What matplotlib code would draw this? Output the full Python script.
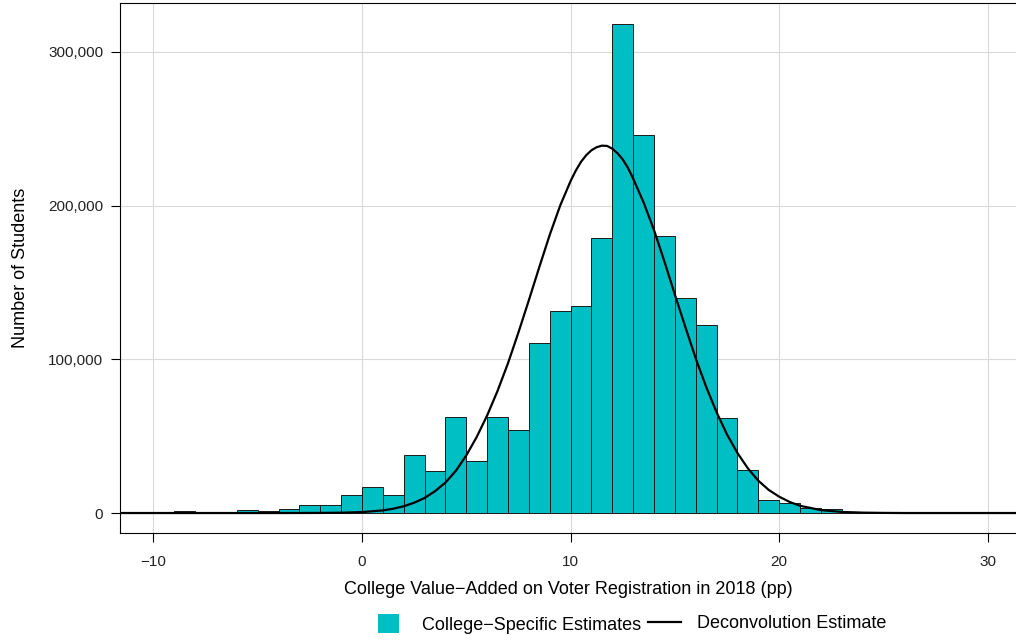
import matplotlib
matplotlib.use("Agg")
import matplotlib.pyplot as plt
from matplotlib.patches import Patch
from matplotlib.lines import Line2D
from matplotlib.ticker import FuncFormatter

plt.rcParams['font.family'] = ['Liberation Sans', 'DejaVu Sans']

# college-specific estimates, 1 pp bins (left edge of each bin)
bin_left = list(range(-9, 25))
bin_count = [1300, 200, 600, 2000, 1500, 2800, 5000, 5100, 12000, 17000,
             12000, 37500, 27600, 62400, 34000, 62700, 54000, 110400, 131500, 134700,
             179200, 318200, 245800, 180200, 140200, 122000, 61800, 28200, 8250, 6750,
             3500, 2400, 500, 200]

# deconvolution estimate (scaled to number of students)
curve_x = [-11.6, -4, -3, -2, -1, 0, 1, 1.5, 2, 2.5, 3, 3.5, 4, 4.5, 5, 5.5, 6, 6.5,
           7, 7.5, 8, 8.5, 9, 9.5, 10, 10.25, 10.5, 10.75, 11, 11.25, 11.5, 11.75,
           12, 12.25, 12.5, 12.75, 13, 13.5, 14, 14.5,
           15, 15.5, 16, 16.5, 17, 17.5, 18, 18.5, 19, 19.5, 20, 20.5, 21, 22, 23,
           24, 25, 26, 31.4]
curve_y = [0, 0, 20, 60, 200, 600, 1700, 2800, 4400, 6700, 9800, 14200, 19800, 27500,
           37500, 49500, 63500, 79500, 97500, 117500, 138500, 160000, 181000, 200000,
           216000, 222800, 228500, 232800, 236000, 238000, 239000, 238800,
           237000, 234000, 230000, 224500, 217500, 202000, 184000,
           163500, 142000, 121000, 100500, 82000, 65500, 51000, 39000, 29000, 21000,
           15000, 10600, 7200, 4700, 1900, 700, 250, 80, 0, 0]

x_ticks = [-10, 0, 10, 20, 30]
y_ticks = [0, 100000, 200000, 300000]

teal = '#00BFC4'

fig = plt.figure(figsize=(10.16, 6.4), dpi=100)
ax = fig.add_axes([120 / 1016, 107 / 640, 896 / 1016, 530 / 640])

ax.bar(bin_left, bin_count, width=1, align='edge', color=teal,
       edgecolor='#1a1a1a', linewidth=0.7, zorder=2)
ax.plot(curve_x, curve_y, color='black', linewidth=1.6, zorder=3)

ax.set_xlim(-11.6, 31.35)
ax.set_ylim(-13000, 331800)
ax.set_xticks(x_ticks)
ax.set_yticks(y_ticks)
ax.yaxis.set_major_formatter(FuncFormatter(lambda v, p: f"{int(v):,}"))

ax.grid(True, color='#d9d9d9', linewidth=0.8)
ax.set_axisbelow(True)

for side in ['left', 'bottom', 'top']:
    ax.spines[side].set_color('black')
    ax.spines[side].set_linewidth(0.8)
ax.spines['right'].set_visible(False)

ax.tick_params(direction='out', length=6.5, width=0.8, color='black',
               labelsize=11, labelcolor='#222222')
ax.tick_params(axis='x', pad=9)
ax.tick_params(axis='y', pad=5.5)

ax.set_xlabel('College Value\u2212Added on Voter Registration in 2018 (pp)',
              fontsize=13, color='black', labelpad=9)
ax.set_ylabel('Number of Students', fontsize=13, color='black', labelpad=13.5)

# legend below the panel, one entry per key
fs_px = 13 * 100 / 72
leg1 = fig.legend(handles=[Patch(facecolor=teal, edgecolor='none')],
                  labels=['College\u2212Specific Estimates'],
                  loc='center left', bbox_to_anchor=(378 / 1016, 1 - 624 / 640),
                  frameon=False, fontsize=13, borderpad=0, borderaxespad=0,
                  handlelength=21 / fs_px, handleheight=21 / fs_px,
                  handletextpad=(422 - 399) / fs_px)
leg2 = fig.legend(handles=[Line2D([0], [0], color='black', linewidth=1.6)],
                  labels=['Deconvolution Estimate'],
                  loc='center left', bbox_to_anchor=(648 / 1016, 1 - 624 / 640),
                  frameon=False, fontsize=13, borderpad=0, borderaxespad=0,
                  handlelength=33 / fs_px, handletextpad=(697 - 681) / fs_px)

fig.savefig('out.png', dpi=100)
